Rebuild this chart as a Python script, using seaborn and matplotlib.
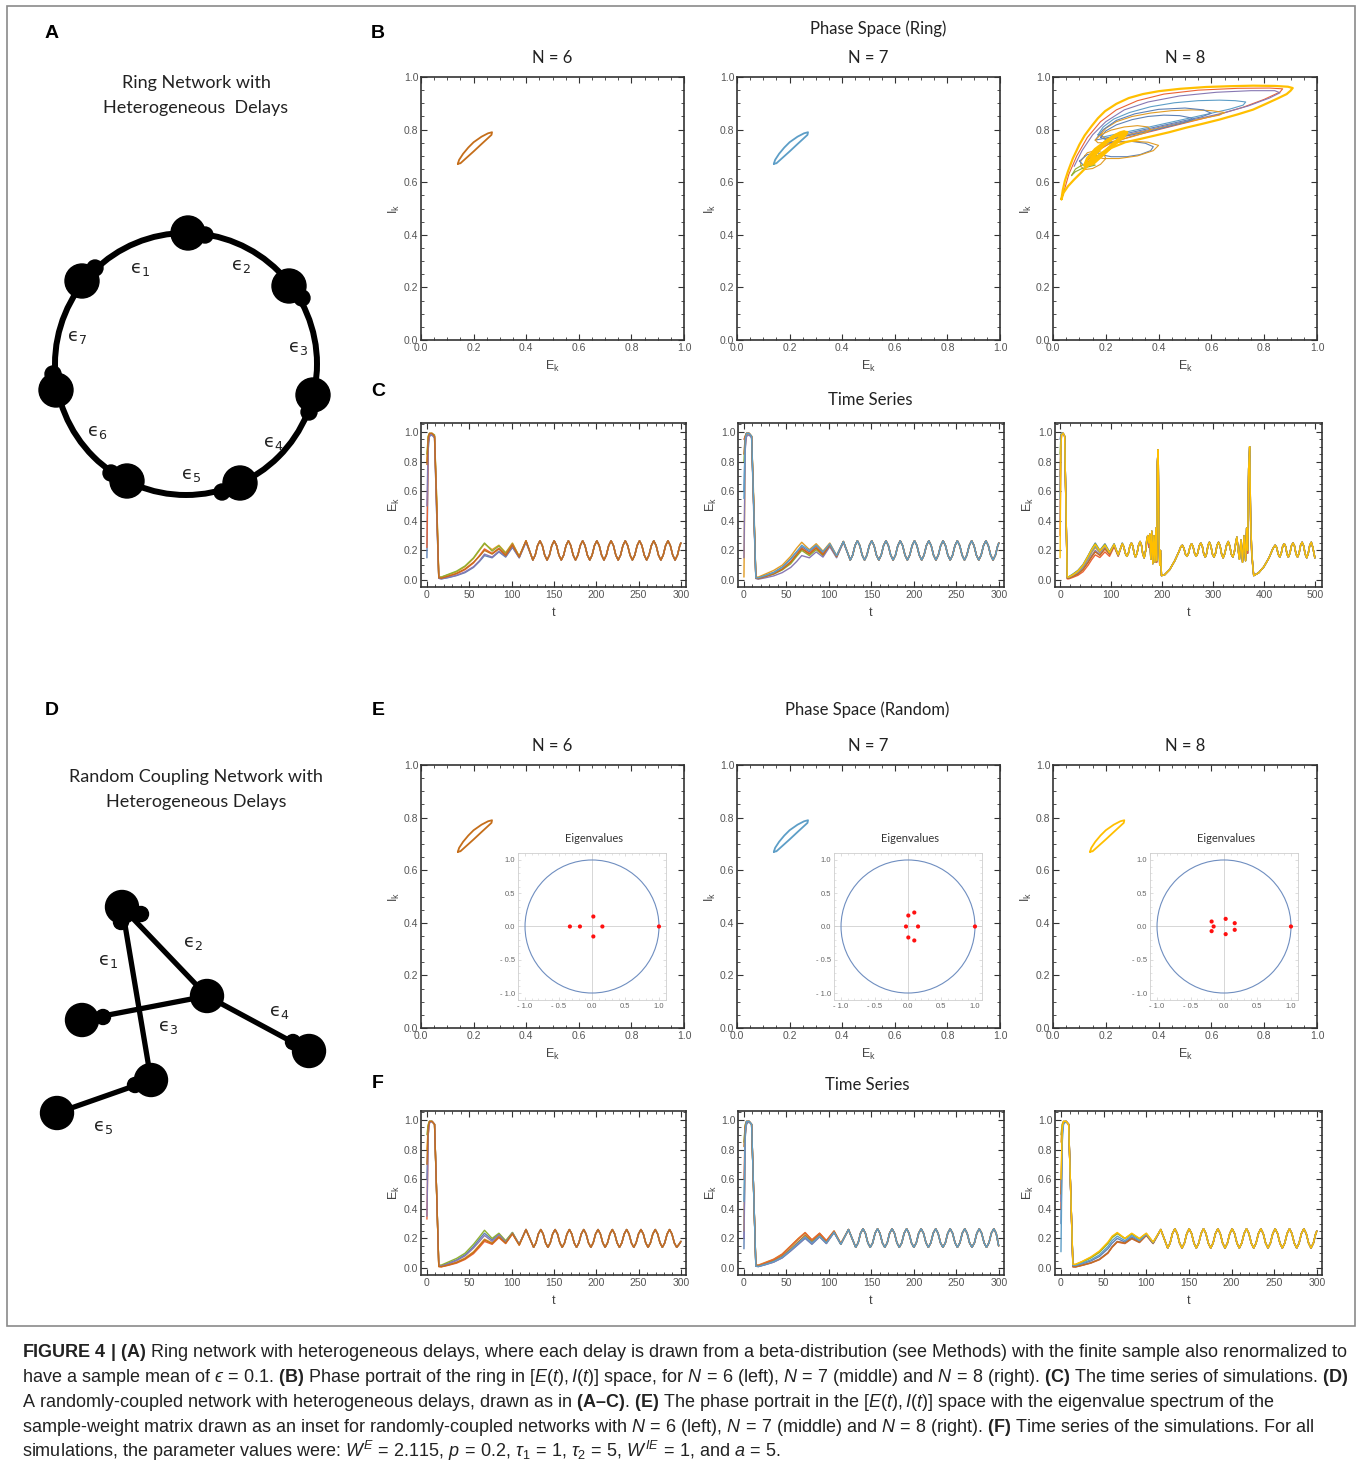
import matplotlib
matplotlib.use("Agg")
import matplotlib.pyplot as plt
import seaborn as sns
from matplotlib import font_manager
from matplotlib.patches import Circle, Ellipse, Rectangle
from matplotlib.ticker import MultipleLocator, FormatStrFormatter, FuncFormatter

# === Figure size in pixels (saved at dpi 100) ===
W, H = 1357, 1471

# === Colours (Mathematica default plot palette) ===
C_BLUE, C_ORANGE, C_GREEN, C_RED = "#5E81B5", "#E19C24", "#8FB032", "#EB6235"
C_PURPLE, C_BROWN, C_LBLUE, C_YELLOW = "#8778B3", "#C56E1A", "#5D9EC7", "#FFBF00"

# === Phase space: small limit cycle (E_k, I_k) ===
loop_E = [0.140, 0.145, 0.160, 0.180, 0.200, 0.230, 0.255, 0.270, 0.268, 0.255, 0.230, 0.200, 0.170, 0.150, 0.140]
loop_I = [0.670, 0.685, 0.708, 0.732, 0.752, 0.773, 0.786, 0.790, 0.780, 0.768, 0.745, 0.717, 0.690, 0.672, 0.670]

# === Phase space ring N = 8: chaotic orbits as (E, I) pairs ===
ring8_outer = [(0.032, 0.535), (0.037, 0.57), (0.045, 0.605), (0.057, 0.642), (0.075, 0.69), (0.1, 0.743),
               (0.12, 0.778), (0.146, 0.813), (0.17, 0.843), (0.197, 0.87), (0.24, 0.898), (0.287, 0.92),
               (0.34, 0.935), (0.4, 0.946), (0.48, 0.955), (0.58, 0.962), (0.67, 0.965), (0.758, 0.967),
               (0.84, 0.966), (0.89, 0.963), (0.908, 0.958), (0.9, 0.948), (0.885, 0.935), (0.85, 0.918),
               (0.8, 0.895), (0.758, 0.876), (0.7, 0.858), (0.63, 0.838), (0.57, 0.823), (0.503, 0.807),
               (0.44, 0.79), (0.376, 0.775), (0.32, 0.762), (0.274, 0.752), (0.22, 0.73), (0.18, 0.705),
               (0.15, 0.68), (0.134, 0.665), (0.11, 0.64), (0.08, 0.61), (0.057, 0.585), (0.04, 0.56), (0.032, 0.535)]
ring8_red = [(0.04, 0.56), (0.06, 0.63), (0.09, 0.7), (0.13, 0.77), (0.18, 0.83), (0.24, 0.875), (0.32, 0.91),
             (0.42, 0.935), (0.55, 0.95), (0.7, 0.957), (0.82, 0.958), (0.87, 0.955), (0.86, 0.943), (0.8, 0.915),
             (0.72, 0.885), (0.62, 0.855), (0.5, 0.825), (0.4, 0.8), (0.3, 0.775), (0.22, 0.75), (0.17, 0.72)]
ring8_purple = [(0.08, 0.66), (0.11, 0.72), (0.15, 0.78), (0.2, 0.83), (0.27, 0.875), (0.36, 0.905), (0.48, 0.928),
                (0.62, 0.942), (0.75, 0.948), (0.84, 0.948), (0.86, 0.94), (0.82, 0.92), (0.74, 0.89), (0.64, 0.862),
                (0.52, 0.835), (0.4, 0.808), (0.3, 0.785), (0.22, 0.762), (0.18, 0.74)]
ring8_teal = [(0.17, 0.78), (0.19, 0.81), (0.23, 0.84), (0.29, 0.865), (0.37, 0.887), (0.46, 0.902), (0.55, 0.91),
              (0.63, 0.912), (0.69, 0.91), (0.73, 0.905), (0.72, 0.893), (0.67, 0.878), (0.59, 0.86), (0.5, 0.84),
              (0.41, 0.82), (0.32, 0.8), (0.24, 0.783), (0.19, 0.772), (0.17, 0.78)]
ring8_orange1 = [(0.18, 0.78), (0.2, 0.805), (0.24, 0.83), (0.3, 0.85), (0.37, 0.863), (0.45, 0.872), (0.53, 0.875),
                 (0.6, 0.872), (0.65, 0.865), (0.63, 0.855), (0.57, 0.843), (0.49, 0.825), (0.4, 0.805),
                 (0.32, 0.787), (0.25, 0.772), (0.2, 0.765), (0.18, 0.78)]
ring8_blue1 = [(0.18, 0.77), (0.2, 0.795), (0.24, 0.818), (0.3, 0.838), (0.36, 0.85), (0.42, 0.855), (0.48, 0.853),
               (0.52, 0.845), (0.53, 0.838), (0.5, 0.828), (0.44, 0.812), (0.37, 0.795), (0.3, 0.78), (0.24, 0.768),
               (0.2, 0.762), (0.18, 0.77)]
ring8_blue3 = [(0.16, 0.76), (0.19, 0.8), (0.24, 0.835), (0.31, 0.86), (0.4, 0.877), (0.5, 0.882), (0.57, 0.875),
               (0.6, 0.862), (0.56, 0.848), (0.48, 0.83), (0.39, 0.81), (0.3, 0.79), (0.22, 0.772), (0.16, 0.76)]
ring8_orange2 = [(0.16, 0.76), (0.18, 0.78), (0.22, 0.798), (0.27, 0.81), (0.32, 0.815), (0.36, 0.81), (0.37, 0.8),
                 (0.35, 0.788), (0.3, 0.773), (0.25, 0.76), (0.2, 0.75), (0.17, 0.75), (0.16, 0.76)]
ring8_blue2 = [(0.16, 0.72), (0.18, 0.705), (0.22, 0.697), (0.28, 0.697), (0.33, 0.705), (0.37, 0.72), (0.38, 0.735),
               (0.35, 0.748), (0.3, 0.755), (0.24, 0.755), (0.19, 0.745), (0.16, 0.72)]
ring8_orange4 = [(0.15, 0.7), (0.19, 0.69), (0.25, 0.69), (0.32, 0.7), (0.38, 0.72), (0.4, 0.74), (0.36, 0.752),
                 (0.3, 0.756), (0.23, 0.75), (0.18, 0.735), (0.15, 0.7)]
ring8_orange3 = [(0.12, 0.7), (0.105, 0.68), (0.105, 0.66), (0.12, 0.648), (0.15, 0.652), (0.18, 0.668), (0.2, 0.69),
                 (0.19, 0.712), (0.16, 0.72), (0.13, 0.712), (0.12, 0.7)]
ring8_green = [(0.07, 0.625), (0.085, 0.64), (0.11, 0.652), (0.14, 0.66), (0.16, 0.665), (0.14, 0.67), (0.11, 0.665),
               (0.085, 0.65), (0.07, 0.625)]
ring8_blue4 = [(0.1, 0.68), (0.12, 0.66), (0.15, 0.665), (0.17, 0.69), (0.16, 0.71), (0.13, 0.705), (0.1, 0.68)]
ring8_blob_y = [(0.12, 0.665), (0.13, 0.69), (0.16, 0.725), (0.2, 0.755), (0.24, 0.777), (0.28, 0.79), (0.27, 0.775),
                (0.24, 0.75), (0.2, 0.72), (0.16, 0.69), (0.13, 0.67), (0.12, 0.665)]
ring8_blob_o = [(0.13, 0.68), (0.16, 0.72), (0.2, 0.75), (0.25, 0.78), (0.28, 0.79), (0.26, 0.77), (0.22, 0.73),
                (0.18, 0.7), (0.15, 0.675), (0.13, 0.68)]
ring8_blob_b = [(0.15, 0.7), (0.19, 0.74), (0.24, 0.775), (0.27, 0.785), (0.25, 0.76), (0.2, 0.72), (0.16, 0.695),
                (0.15, 0.7)]

# === Eigenvalue spectra (random networks) ===
eig6_re = [-0.33, -0.18, 0.02, 0.02, 0.155, 1.0]
eig6_im = [0.0, 0.0, 0.15, -0.15, 0.0, 0.0]
eig7_re = [-0.03, 0.005, 0.005, 0.094, 0.094, 0.15, 1.0]
eig7_im = [0.0, 0.165, -0.165, 0.21, -0.21, 0.0, 0.0]
eig8_re = [-0.185, -0.155, -0.185, 0.025, 0.025, 0.16, 0.16, 1.0]
eig8_im = [0.075, 0.0, -0.07, 0.115, -0.115, 0.05, -0.05, 0.0]

# === Time series: transient part (t grid + one list per node) ===
t_head = [0, 1.5, 3, 6, 9, 11.5, 14, 17, 25, 35, 45, 55, 62, 68, 77, 85, 93, 101, 109, 117]
t_head_c8 = [0, 1.5, 3, 6, 9, 11.5, 14, 17, 25, 35, 45, 55, 62, 69, 78, 88, 97, 106, 114, 122]
t_head_f7 = [0, 1.5, 3, 6, 9, 11.5, 14, 17, 25, 35, 45, 55, 64, 72, 80, 89, 97, 106, 114, 123]
t_head_f8 = [0, 1.5, 3, 6, 9, 11.5, 14, 17, 25, 35, 45, 55, 60, 66, 75, 83, 92, 100, 108, 117]

# ring N = 6
c6_blue = [0.15, 0.88, 0.97, 0.98, 0.96, 0.45, 0.012, 0.008, 0.016, 0.03, 0.05, 0.085, 0.125, 0.165, 0.15, 0.19, 0.155, 0.22, 0.15, 0.255]
c6_orange = [0.80, 0.97, 0.99, 0.99, 0.97, 0.55, 0.02, 0.02, 0.035, 0.055, 0.09, 0.145, 0.20, 0.245, 0.205, 0.235, 0.185, 0.25, 0.16, 0.265]
c6_green = [0.85, 0.97, 0.99, 0.99, 0.98, 0.55, 0.02, 0.02, 0.038, 0.06, 0.095, 0.15, 0.205, 0.25, 0.195, 0.23, 0.18, 0.245, 0.16, 0.265]
c6_red = [0.22, 0.92, 0.98, 0.99, 0.97, 0.5, 0.015, 0.012, 0.025, 0.042, 0.07, 0.115, 0.165, 0.21, 0.18, 0.215, 0.17, 0.24, 0.155, 0.265]
c6_purple = [0.50, 0.93, 0.98, 0.98, 0.96, 0.45, 0.012, 0.008, 0.018, 0.032, 0.055, 0.09, 0.13, 0.175, 0.155, 0.195, 0.16, 0.225, 0.15, 0.26]
c6_brown = [0.78, 0.96, 0.99, 0.99, 0.97, 0.5, 0.015, 0.012, 0.026, 0.045, 0.075, 0.12, 0.16, 0.20, 0.175, 0.21, 0.165, 0.235, 0.155, 0.265]

# ring N = 7
c7_blue = [0.6, 0.96, 0.99, 0.99, 0.97, 0.5, 0.015, 0.015, 0.032, 0.052, 0.088, 0.145, 0.19, 0.225, 0.19, 0.23, 0.185, 0.245, 0.16, 0.26]
c7_orange = [0.02, 0.9, 0.98, 0.99, 0.97, 0.55, 0.02, 0.02, 0.04, 0.065, 0.1, 0.16, 0.215, 0.255, 0.205, 0.245, 0.195, 0.25, 0.165, 0.26]
c7_green = [0.8, 0.97, 0.99, 0.99, 0.97, 0.5, 0.012, 0.01, 0.022, 0.04, 0.068, 0.11, 0.16, 0.2, 0.165, 0.205, 0.165, 0.235, 0.155, 0.26]
c7_red = [0.95, 0.97, 0.99, 0.99, 0.97, 0.5, 0.012, 0.01, 0.025, 0.045, 0.075, 0.125, 0.175, 0.215, 0.18, 0.22, 0.175, 0.24, 0.16, 0.26]
c7_purple = [0.15, 0.88, 0.97, 0.98, 0.96, 0.45, 0.01, 0.006, 0.015, 0.028, 0.05, 0.085, 0.125, 0.165, 0.15, 0.19, 0.155, 0.225, 0.15, 0.255]
c7_brown = [0.85, 0.97, 0.99, 0.99, 0.97, 0.5, 0.013, 0.01, 0.024, 0.042, 0.072, 0.12, 0.17, 0.21, 0.175, 0.215, 0.17, 0.238, 0.158, 0.26]
c7_lblue = [0.55, 0.95, 0.99, 0.99, 0.97, 0.5, 0.015, 0.015, 0.03, 0.05, 0.085, 0.14, 0.19, 0.235, 0.2, 0.235, 0.19, 0.245, 0.165, 0.26]

# steady oscillation shared by ring N = 6, ring N = 7 and random N = 8
tail_a_t = [125.1, 127.9, 130.7, 133.5, 136.3, 139.1,
            141.9, 144.7, 147.5, 150.3, 153.1, 155.9,
            158.7, 161.5, 164.3, 167.1, 169.9, 172.7,
            175.5, 178.3, 181.1, 183.9, 186.7, 189.5,
            192.3, 195.1, 197.9, 200.7, 203.5, 206.3,
            209.1, 211.9, 214.7, 217.5, 220.3, 223.1,
            225.9, 228.7, 231.5, 234.3, 237.1, 239.9,
            242.7, 245.5, 248.3, 251.1, 253.9, 256.7,
            259.5, 262.3, 265.1, 267.9, 270.7, 273.5,
            276.3, 279.1, 281.9, 284.7, 287.5, 290.3,
            293.1, 295.9, 298.7, 300.0]
tail_a_E = [0.135, 0.168, 0.233, 0.265, 0.233, 0.168,
            0.135, 0.168, 0.233, 0.265, 0.233, 0.168,
            0.135, 0.168, 0.233, 0.265, 0.233, 0.168,
            0.135, 0.168, 0.233, 0.265, 0.233, 0.168,
            0.135, 0.168, 0.233, 0.265, 0.233, 0.168,
            0.135, 0.168, 0.233, 0.265, 0.233, 0.168,
            0.135, 0.168, 0.233, 0.265, 0.233, 0.168,
            0.135, 0.168, 0.233, 0.265, 0.233, 0.168,
            0.135, 0.168, 0.233, 0.265, 0.233, 0.168,
            0.135, 0.168, 0.233, 0.265, 0.233, 0.168,
            0.135, 0.168, 0.233, 0.25]

# ring N = 8
c8_blue = [0.95, 0.98, 0.99, 0.99, 0.97, 0.5, 0.02, 0.022, 0.04, 0.065, 0.105, 0.165, 0.21, 0.25, 0.2, 0.245, 0.19, 0.245, 0.17, 0.25]
c8_orange = [0.7, 0.96, 0.99, 0.99, 0.97, 0.5, 0.016, 0.016, 0.03, 0.05, 0.085, 0.14, 0.185, 0.22, 0.185, 0.228, 0.18, 0.238, 0.166, 0.245]
c8_green = [0.85, 0.97, 0.99, 0.99, 0.97, 0.5, 0.02, 0.021, 0.038, 0.063, 0.1, 0.162, 0.208, 0.245, 0.198, 0.24, 0.188, 0.243, 0.17, 0.248]
c8_red = [0.3, 0.92, 0.98, 0.99, 0.97, 0.5, 0.008, 0.008, 0.018, 0.032, 0.056, 0.1, 0.138, 0.17, 0.152, 0.19, 0.16, 0.225, 0.16, 0.245]
c8_purple = [0.4, 0.93, 0.98, 0.99, 0.97, 0.5, 0.013, 0.013, 0.026, 0.044, 0.075, 0.125, 0.165, 0.2, 0.172, 0.215, 0.176, 0.235, 0.165, 0.245]
c8_brown = [0.6, 0.95, 0.99, 0.99, 0.97, 0.5, 0.012, 0.012, 0.024, 0.04, 0.07, 0.118, 0.156, 0.19, 0.166, 0.21, 0.174, 0.233, 0.164, 0.245]
c8_lblue = [0.55, 0.95, 0.99, 0.99, 0.97, 0.5, 0.018, 0.018, 0.033, 0.056, 0.092, 0.15, 0.195, 0.23, 0.19, 0.232, 0.184, 0.24, 0.168, 0.246]
c8_yellow = [0.15, 0.9, 0.98, 0.99, 0.97, 0.5, 0.02, 0.02, 0.035, 0.06, 0.1, 0.16, 0.205, 0.24, 0.195, 0.235, 0.185, 0.24, 0.17, 0.245]
c8_seg1 = [(125, 0.225), (128, 0.18), (131, 0.16), (134, 0.18), (137, 0.23), (140, 0.25), (142.7, 0.23),
           (145.3, 0.18), (148, 0.155), (151, 0.18), (154, 0.235), (157, 0.26), (159.7, 0.235), (162.3, 0.175),
           (165, 0.15)]
c8_spike1 = [(168, 0.2), (170, 0.27), (172, 0.3), (174, 0.25), (176, 0.31), (178, 0.14), (180, 0.33), (182, 0.11),
             (184, 0.3), (186, 0.12), (188, 0.35), (189.5, 0.13), (191, 0.8), (192.5, 0.88), (194, 0.3),
             (195.5, 0.1), (197, 0.2), (199, 0.03)]
c8_spike1_alt = [(168, 0.2), (170, 0.26), (172, 0.29), (174, 0.22), (176, 0.3), (178, 0.16), (180, 0.31), (182, 0.12),
                 (184, 0.28), (186, 0.14), (188, 0.33), (189.5, 0.12), (191, 0.78), (192.5, 0.85), (194, 0.25),
                 (195.5, 0.12), (197, 0.18), (199, 0.03)]
c8_seg2 = [(205, 0.035), (215, 0.07), (225, 0.13), (233, 0.19), (237, 0.225), (240, 0.235), (243, 0.215),
           (246, 0.175), (249, 0.16), (252, 0.18), (255, 0.225), (258, 0.245), (261, 0.225), (264, 0.18),
           (267, 0.16), (270, 0.18), (273, 0.23), (276, 0.25), (279, 0.23), (282, 0.175), (285, 0.155),
           (287.7, 0.18), (290.3, 0.235), (293, 0.255), (296, 0.23), (299, 0.175), (302, 0.155), (305, 0.18),
           (308, 0.235), (311, 0.255), (314, 0.23), (317, 0.175), (320, 0.15), (323.3, 0.18), (326.7, 0.235),
           (330, 0.26), (333, 0.23), (336, 0.175), (339, 0.155)]
c8_spike2 = [(342, 0.19), (345, 0.26), (347, 0.29), (349.5, 0.2), (352, 0.14), (355, 0.27), (358, 0.12), (361, 0.3),
             (364, 0.13), (366, 0.35), (368, 0.2), (370, 0.75), (372, 0.9), (374, 0.4), (376, 0.2), (378, 0.1),
             (380, 0.03)]
c8_spike2_alt = [(342, 0.19), (345, 0.25), (347, 0.28), (349.5, 0.21), (352, 0.15), (355, 0.25), (358, 0.13),
                 (361, 0.28), (364, 0.15), (366, 0.32), (368, 0.18), (370, 0.7), (372, 0.84), (374, 0.35),
                 (376, 0.18), (378, 0.1), (380, 0.03)]
c8_seg3 = [(390, 0.05), (400, 0.09), (410, 0.15), (418, 0.215), (422, 0.235), (425, 0.22), (428, 0.175),
           (431, 0.155), (434, 0.18), (437, 0.23), (440, 0.245), (442.7, 0.225), (445.3, 0.175), (448, 0.155),
           (451, 0.18), (454, 0.23), (457, 0.25), (460, 0.23), (463, 0.175), (466, 0.155), (469, 0.18),
           (472, 0.235), (475, 0.255), (478, 0.23), (481, 0.175), (484, 0.15), (487, 0.18), (490, 0.235),
           (493, 0.255), (496, 0.22), (500, 0.15)]

# random N = 6
f6_blue = [0.6, 0.95, 0.99, 0.99, 0.97, 0.5, 0.015, 0.015, 0.032, 0.055, 0.09, 0.145, 0.195, 0.235, 0.19, 0.23, 0.18, 0.24, 0.16, 0.26]
f6_orange = [0.8, 0.96, 0.99, 0.99, 0.97, 0.5, 0.012, 0.01, 0.022, 0.04, 0.068, 0.11, 0.155, 0.195, 0.17, 0.215, 0.17, 0.235, 0.155, 0.26]
f6_green = [0.9, 0.97, 0.99, 0.99, 0.97, 0.5, 0.02, 0.02, 0.04, 0.065, 0.1, 0.16, 0.21, 0.255, 0.2, 0.235, 0.185, 0.24, 0.16, 0.26]
f6_red = [0.33, 0.9, 0.98, 0.99, 0.97, 0.5, 0.01, 0.008, 0.018, 0.033, 0.058, 0.097, 0.14, 0.18, 0.16, 0.205, 0.165, 0.23, 0.155, 0.26]
f6_purple = [0.35, 0.9, 0.98, 0.99, 0.97, 0.5, 0.015, 0.013, 0.028, 0.05, 0.082, 0.135, 0.18, 0.22, 0.18, 0.225, 0.175, 0.235, 0.16, 0.26]
f6_brown = [0.7, 0.95, 0.99, 0.99, 0.97, 0.5, 0.01, 0.009, 0.02, 0.037, 0.063, 0.105, 0.15, 0.19, 0.165, 0.21, 0.168, 0.232, 0.155, 0.26]
tail_b_t = [126.0, 128.8, 131.6, 134.5, 137.3, 140.1,
            142.9, 145.7, 148.5, 151.4, 154.2, 157.0,
            159.8, 162.6, 165.4, 168.3, 171.1, 173.9,
            176.7, 179.5, 182.3, 185.2, 188.0, 190.8,
            193.6, 196.4, 199.2, 202.1, 204.9, 207.7,
            210.5, 213.3, 216.1, 219.0, 221.8, 224.6,
            227.4, 230.2, 233.0, 235.9, 238.7, 241.5,
            244.3, 247.1, 249.9, 252.8, 255.6, 258.4,
            261.2, 264.0, 266.8, 269.7, 272.5, 275.3,
            278.1, 280.9, 283.7, 286.6, 289.4, 292.2,
            295.0, 297.8, 300.0]
tail_b_E = [0.14, 0.17, 0.23, 0.26, 0.23, 0.17,
            0.14, 0.17, 0.23, 0.26, 0.23, 0.17,
            0.14, 0.17, 0.23, 0.26, 0.23, 0.17,
            0.14, 0.17, 0.23, 0.26, 0.23, 0.17,
            0.14, 0.17, 0.23, 0.26, 0.23, 0.17,
            0.14, 0.17, 0.23, 0.26, 0.23, 0.17,
            0.14, 0.17, 0.23, 0.26, 0.23, 0.17,
            0.14, 0.17, 0.23, 0.26, 0.23, 0.17,
            0.14, 0.17, 0.23, 0.26, 0.23, 0.17,
            0.14, 0.17, 0.23, 0.26, 0.23, 0.17,
            0.14, 0.16, 0.18]

# random N = 7
f7_blue = [0.13, 0.88, 0.97, 0.99, 0.97, 0.5, 0.012, 0.01, 0.022, 0.04, 0.068, 0.115, 0.16, 0.2, 0.16, 0.21, 0.165, 0.24, 0.16, 0.26]
f7_orange = [0.25, 0.9, 0.98, 0.99, 0.97, 0.5, 0.02, 0.02, 0.038, 0.06, 0.095, 0.15, 0.2, 0.24, 0.19, 0.235, 0.185, 0.25, 0.165, 0.26]
f7_green = [0.85, 0.97, 0.99, 0.99, 0.97, 0.5, 0.018, 0.016, 0.033, 0.055, 0.09, 0.145, 0.195, 0.235, 0.185, 0.232, 0.18, 0.248, 0.163, 0.26]
f7_red = [0.6, 0.95, 0.99, 0.99, 0.97, 0.5, 0.02, 0.018, 0.035, 0.058, 0.092, 0.148, 0.198, 0.238, 0.19, 0.235, 0.185, 0.25, 0.165, 0.26]
f7_purple = [0.2, 0.9, 0.98, 0.99, 0.97, 0.5, 0.012, 0.01, 0.023, 0.04, 0.07, 0.117, 0.162, 0.205, 0.165, 0.212, 0.166, 0.24, 0.16, 0.26]
f7_brown = [0.82, 0.96, 0.99, 0.99, 0.97, 0.5, 0.015, 0.013, 0.028, 0.048, 0.08, 0.13, 0.178, 0.22, 0.175, 0.222, 0.172, 0.244, 0.16, 0.26]
f7_lblue = [0.45, 0.93, 0.99, 0.99, 0.97, 0.5, 0.013, 0.011, 0.025, 0.044, 0.074, 0.122, 0.17, 0.21, 0.17, 0.216, 0.17, 0.242, 0.16, 0.26]
tail_c_t = [131.5, 134.4, 137.2, 140.1, 142.9, 145.8,
            148.6, 151.5, 154.3, 157.2, 160.0, 162.9,
            165.7, 168.6, 171.4, 174.3, 177.1, 180.0,
            182.8, 185.7, 188.5, 191.4, 194.2, 197.1,
            199.9, 202.8, 205.6, 208.5, 211.3, 214.2,
            217.0, 219.9, 222.7, 225.6, 228.4, 231.3,
            234.1, 237.0, 239.8, 242.7, 245.5, 248.4,
            251.2, 254.1, 256.9, 259.8, 262.6, 265.5,
            268.3, 271.2, 274.0, 276.9, 279.7, 282.6,
            285.4, 288.3, 291.1, 294.0, 296.8, 299.7]
tail_c_E = [0.14, 0.17, 0.235, 0.265, 0.235, 0.17,
            0.14, 0.17, 0.235, 0.265, 0.235, 0.17,
            0.14, 0.17, 0.235, 0.265, 0.235, 0.17,
            0.14, 0.17, 0.235, 0.265, 0.235, 0.17,
            0.14, 0.17, 0.235, 0.265, 0.235, 0.17,
            0.14, 0.17, 0.235, 0.265, 0.235, 0.17,
            0.14, 0.17, 0.235, 0.265, 0.235, 0.17,
            0.14, 0.17, 0.235, 0.265, 0.235, 0.17,
            0.14, 0.17, 0.235, 0.265, 0.235, 0.17,
            0.14, 0.17, 0.235, 0.265, 0.235, 0.15]

# random N = 8
f8_blue = [0.3, 0.9, 0.98, 0.99, 0.97, 0.5, 0.015, 0.014, 0.028, 0.048, 0.078, 0.13, 0.168, 0.2, 0.175, 0.21, 0.18, 0.225, 0.168, 0.26]
f8_orange = [0.85, 0.97, 0.99, 0.99, 0.97, 0.5, 0.025, 0.024, 0.044, 0.072, 0.11, 0.17, 0.21, 0.235, 0.198, 0.232, 0.198, 0.234, 0.174, 0.26]
f8_green = [0.9, 0.97, 0.99, 0.99, 0.97, 0.5, 0.022, 0.022, 0.04, 0.068, 0.105, 0.165, 0.205, 0.232, 0.2, 0.23, 0.195, 0.232, 0.172, 0.26]
f8_red = [0.4, 0.92, 0.98, 0.99, 0.97, 0.5, 0.008, 0.007, 0.018, 0.033, 0.056, 0.1, 0.14, 0.175, 0.165, 0.198, 0.172, 0.22, 0.165, 0.26]
f8_purple = [0.45, 0.92, 0.98, 0.99, 0.97, 0.5, 0.01, 0.009, 0.02, 0.036, 0.06, 0.105, 0.145, 0.18, 0.17, 0.2, 0.175, 0.222, 0.166, 0.26]
f8_brown = [0.5, 0.93, 0.98, 0.99, 0.97, 0.5, 0.009, 0.008, 0.019, 0.035, 0.058, 0.102, 0.142, 0.178, 0.168, 0.2, 0.174, 0.222, 0.166, 0.26]
f8_lblue = [0.11, 0.85, 0.97, 0.99, 0.97, 0.5, 0.018, 0.017, 0.033, 0.055, 0.088, 0.145, 0.185, 0.215, 0.185, 0.22, 0.185, 0.228, 0.17, 0.26]
f8_yellow = [0.6, 0.95, 0.99, 0.99, 0.97, 0.5, 0.025, 0.025, 0.045, 0.075, 0.115, 0.175, 0.215, 0.24, 0.2, 0.235, 0.2, 0.235, 0.175, 0.26]

# === Network diagrams (figure pixel coordinates) ===
ring_nodes = [(188, 233), (82, 281), (289, 286), (56, 390), (313, 395), (127, 481), (240, 483)]
ring_bumps = [(205, 235), (95, 268), (302, 298), (53, 374), (309, 412), (111, 473), (222, 492)]
ring_labels = [(140, 269, "1"), (241, 266, "2"), (298, 348, "3"), (273, 443, "4"), (191, 475, "5"), (97, 432, "6"), (77, 337, "7")]
rnd_nodes = [(122, 907), (207, 996), (82, 1020), (309, 1051), (151, 1080), (57, 1113)]
rnd_edges = [(0, 4), (0, 1), (2, 1), (1, 3), (4, 5)]
rnd_bumps = [(121, 922), (141, 914), (103, 1017), (293, 1042), (135, 1085)]
rnd_labels = [(108, 961, "1"), (193, 943, "2"), (168, 1027, "3"), (279, 1012, "4"), (103, 1127, "5")]

# === Caption ===
caption = [
    r"$\mathbf{FIGURE\ 4\ |\ (A)}$ Ring network with heterogeneous delays, where each delay is drawn from a beta-distribution (see Methods) with the finite sample also renormalized to",
    r"have a sample mean of $ϵ\,=\,0.1$. $\mathbf{(B)}$ Phase portrait of the ring in $[E(t), I(t)]$ space, for $N\,=\,6$ (left), $N\,=\,7$ (middle) and $N\,=\,8$ (right). $\mathbf{(C)}$ The time series of simulations. $\mathbf{(D)}$",
    r"A randomly-coupled network with heterogeneous delays, drawn as in $\mathbf{(A–C)}$. $\mathbf{(E)}$ The phase portrait in the $[E(t), I(t)]$ space with the eigenvalue spectrum of the",
    r"sample-weight matrix drawn as an inset for randomly-coupled networks with $N\,=\,6$ (left), $N\,=\,7$ (middle) and $N\,=\,8$ (right). $\mathbf{(F)}$ Time series of the simulations. For all",
    r"simulations, the parameter values were: $W^E\,=\,2.115$, $p\,=\,0.2$, $\tau_1\,=\,1$, $\tau_2\,=\,5$, $W^{IE}\,=\,1$, and $a\,=\,5$.",
]

# === Style ===
sns.set_theme(style="white")
installed = {f.name for f in font_manager.fontManager.ttflist}
cap_font = "Liberation Sans Narrow" if "Liberation Sans Narrow" in installed else "Liberation Sans"
head_font = "Lato" if "Lato" in installed else "Open Sans"
plt.rcParams["font.family"] = ["Liberation Sans", "DejaVu Sans"]
plt.rcParams["mathtext.fontset"] = "custom"
plt.rcParams["mathtext.rm"] = cap_font
plt.rcParams["mathtext.it"] = cap_font + ":italic"
plt.rcParams["mathtext.bf"] = cap_font + ":bold"
plt.rcParams["mathtext.fallback"] = "stixsans"

fig = plt.figure(figsize=(W / 100, H / 100), dpi=100)
fig.patch.set_facecolor("white")


def pax(x0, y0, x1, y1):
    return fig.add_axes([x0 / W, 1 - y1 / H, (x1 - x0) / W, (y1 - y0) / H])


def ptext(x, y, s, **kw):
    kw.setdefault("ha", "center")
    kw.setdefault("va", "center")
    return fig.text(x / W, 1 - y / H, s, **kw)


def frame(ax, xmaj, xmin, ymaj, ymin):
    for sp in ax.spines.values():
        sp.set_visible(True)
        sp.set_color("#333333")
        sp.set_linewidth(1.2)
    ax.xaxis.set_major_locator(MultipleLocator(xmaj))
    ax.xaxis.set_minor_locator(MultipleLocator(xmin))
    ax.yaxis.set_major_locator(MultipleLocator(ymaj))
    ax.yaxis.set_minor_locator(MultipleLocator(ymin))
    ax.yaxis.set_major_formatter(FormatStrFormatter("%.1f"))
    ax.tick_params(which="both", direction="in", top=True, right=True, bottom=True, left=True,
                   color="#333333", labelcolor="#555555", labelsize=7.5, pad=2)
    ax.tick_params(which="major", length=4, width=0.8)
    ax.tick_params(which="minor", length=2, width=0.6)
    ax.set_xlabel("")
    ax.set_ylabel("")


def line(ax, x, y, color, lw=1.0):
    sns.lineplot(x=x, y=y, ax=ax, color=color, lw=lw, sort=False, estimator=None, legend=False)


def pairs_line(ax, pts, color, lw=0.8):
    line(ax, [p[0] for p in pts], [p[1] for p in pts], color, lw)


phase_cols = [(421, 684), (737, 1000), (1053, 1317)]
ts_cols = [(421, 686), (738, 1004), (1055, 1322)]
Ns = ["N = 6", "N = 7", "N = 8"]


def phase_axes(col, y0, y1):
    x0, x1 = phase_cols[col]
    ax = pax(x0, y0, x1, y1)
    ax.set_xlim(0, 1)
    ax.set_ylim(0, 1)
    frame(ax, 0.2, 0.05, 0.2, 0.05)
    ax.xaxis.set_major_formatter(FormatStrFormatter("%.1f"))
    ptext((x0 + x1) / 2, y0 - 19, Ns[col], fontsize=12, family=head_font, color="#222222")
    ptext((x0 + x1) / 2, y1 + 26, r"E$_\mathregular{k}$", fontsize=9, color="#444444")
    ptext(x0 - 27, (y0 + y1) / 2, r"I$_\mathregular{k}$", fontsize=9, color="#444444", rotation=90)
    return ax


def ts_axes(col, y0, y1, tmax):
    x0, x1 = ts_cols[col]
    ax = pax(x0, y0, x1, y1)
    if tmax == 500:
        ax.set_xlim(-10, 514)
        frame(ax, 100, 20, 0.2, 0.05)
    else:
        ax.set_xlim(-7, 306)
        frame(ax, 50, 10, 0.2, 0.05)
    ax.set_ylim(-0.047, 1.06)
    ptext((x0 + x1) / 2, y1 + 26, "t", fontsize=9, color="#444444")
    ptext(x0 - 27, (y0 + y1) / 2, r"E$_\mathregular{k}$", fontsize=9, color="#444444", rotation=90)
    return ax


def ts_panel(ax, heads, th, tail_t, tail_E):
    for head, color in heads:
        line(ax, th + tail_t, head + tail_E, color)


# === Background layer: outer frame + network drawings ===
bg = fig.add_axes([0, 0, 1, 1])
bg.set_xlim(0, W)
bg.set_ylim(H, 0)
bg.axis("off")
bg.add_patch(Rectangle((7, 6), 1348, 1320, fill=False, ec="#8a8a8a", lw=1.2))

bg.add_patch(Ellipse((186, 364), 262, 262, fill=False, ec="black", lw=4.3))
for (x, y) in ring_nodes:
    bg.add_patch(Circle((x, y), 17, color="black"))
for (x, y) in ring_bumps:
    bg.add_patch(Circle((x, y), 8, color="black"))
for (x, y, k) in ring_labels:
    bg.text(x, y, r"$\mathrm{ϵ}_{\mathrm{%s}}$" % k, fontsize=13, ha="center", va="center",
            color="#222222", math_fontfamily="dejavusans")

for a, b in rnd_edges:
    bg.plot([rnd_nodes[a][0], rnd_nodes[b][0]], [rnd_nodes[a][1], rnd_nodes[b][1]], color="black", lw=3.8)
for (x, y) in rnd_nodes:
    bg.add_patch(Circle((x, y), 16.5, color="black"))
for (x, y) in rnd_bumps:
    bg.add_patch(Circle((x, y), 7.5, color="black"))
for (x, y, k) in rnd_labels:
    bg.text(x, y, r"$\mathrm{ϵ}_{\mathrm{%s}}$" % k, fontsize=13, ha="center", va="center",
            color="#222222", math_fontfamily="dejavusans")

# === Panel letters and headers ===
for (x, y, s) in [(52, 33, "A"), (378, 33, "B"), (378, 392, "C"), (52, 711, "D"), (378, 711, "E"), (378, 1084, "F")]:
    ptext(x, y, s, fontsize=14, fontweight="bold", color="black")
ptext(878, 29, "Phase Space (Ring)", fontsize=12, family=head_font, color="#222222")
ptext(870, 400, "Time Series", fontsize=12, family=head_font, color="#222222")
ptext(867, 710, "Phase Space (Random)", fontsize=12, family=head_font, color="#222222")
ptext(867, 1085, "Time Series", fontsize=12, family=head_font, color="#222222")
ptext(196, 83, "Ring Network with", fontsize=13, family=head_font, color="#222222")
ptext(196, 108, "Heterogeneous  Delays", fontsize=13, family=head_font, color="#222222")
ptext(196, 777, "Random Coupling Network with", fontsize=13, family=head_font, color="#222222")
ptext(196, 802, "Heterogeneous Delays", fontsize=13, family=head_font, color="#222222")

# === (B) Phase space, ring ===
ax = phase_axes(0, 77, 340)
line(ax, loop_E, loop_I, C_BROWN, 1.3)
ax = phase_axes(1, 77, 340)
line(ax, loop_E, loop_I, C_LBLUE, 1.3)
ax = phase_axes(2, 77, 340)
for pts, color in [(ring8_red, C_RED), (ring8_purple, C_PURPLE), (ring8_teal, C_LBLUE), (ring8_orange1, C_ORANGE),
                   (ring8_blue3, C_BLUE), (ring8_blue1, C_BLUE), (ring8_orange2, C_ORANGE), (ring8_blue2, C_BLUE),
                   (ring8_orange4, C_ORANGE), (ring8_orange3, C_ORANGE), (ring8_blue4, C_BLUE),
                   (ring8_green, C_GREEN), (ring8_blob_b, C_BLUE), (ring8_blob_o, C_RED)]:
    pairs_line(ax, pts, color, 0.8)
pairs_line(ax, ring8_outer, C_YELLOW, 1.6)
pairs_line(ax, ring8_blob_y, C_YELLOW, 2.2)
line(ax, loop_E, loop_I, C_YELLOW, 3.0)

# === (C) Time series, ring ===
ax = ts_axes(0, 423, 587, 300)
ts_panel(ax, [(c6_blue, C_BLUE), (c6_orange, C_ORANGE), (c6_green, C_GREEN), (c6_red, C_RED),
              (c6_purple, C_PURPLE), (c6_brown, C_BROWN)], t_head, tail_a_t, tail_a_E)
ax = ts_axes(1, 423, 587, 300)
ts_panel(ax, [(c7_blue, C_BLUE), (c7_orange, C_ORANGE), (c7_green, C_GREEN), (c7_red, C_RED),
              (c7_purple, C_PURPLE), (c7_brown, C_BROWN), (c7_lblue, C_LBLUE)], t_head, tail_a_t, tail_a_E)
ax = ts_axes(2, 423, 587, 500)
c8_main = c8_seg1 + c8_spike1 + c8_seg2 + c8_spike2 + c8_seg3
c8_alt = c8_seg1 + c8_spike1_alt + c8_seg2 + c8_spike2_alt + c8_seg3
ts_panel(ax, [(c8_blue, C_BLUE), (c8_red, C_RED)], t_head_c8,
         [p[0] for p in c8_alt], [p[1] for p in c8_alt])
ts_panel(ax, [(c8_orange, C_ORANGE), (c8_green, C_GREEN), (c8_purple, C_PURPLE), (c8_brown, C_BROWN),
              (c8_lblue, C_LBLUE), (c8_yellow, C_YELLOW)], t_head_c8,
         [p[0] for p in c8_main], [p[1] for p in c8_main])

# === (E) Phase space, random, with eigenvalue insets ===
eig_sets = [(eig6_re, eig6_im), (eig7_re, eig7_im), (eig8_re, eig8_im)]
loop_colors = [C_BROWN, C_LBLUE, C_YELLOW]
inset_x = [(518, 666), (834, 982), (1150, 1298)]
neg_fmt = FuncFormatter(lambda v, p: ("- %.1f" % abs(v)) if v < -1e-9 else "%.1f" % abs(v))
for col in range(3):
    ax = phase_axes(col, 765, 1028)
    line(ax, loop_E, loop_I, loop_colors[col], 1.3)
    x0, x1 = inset_x[col]
    ins = pax(x0, 853, x1, 1000)
    ins.set_facecolor("white")
    ins.set_xlim(-1.105, 1.105)
    ins.set_ylim(-1.105, 1.105)
    for sp in ins.spines.values():
        sp.set_visible(True)
        sp.set_color("#cfcfcf")
        sp.set_linewidth(0.6)
    for axis in (ins.xaxis, ins.yaxis):
        axis.set_major_locator(MultipleLocator(0.5))
        axis.set_minor_locator(MultipleLocator(0.1))
        axis.set_major_formatter(neg_fmt)
    ins.tick_params(which="both", direction="in", top=True, right=True, bottom=True, left=True,
                    color="#cfcfcf", labelcolor="#666666", labelsize=5.5, pad=2)
    ins.tick_params(which="major", length=2.5, width=0.5)
    ins.tick_params(which="minor", length=1.2, width=0.4)
    ins.axhline(0, color="#d0d0d0", lw=0.6, zorder=0)
    ins.axvline(0, color="#d0d0d0", lw=0.6, zorder=0)
    ins.add_patch(Circle((0, 0), 1.0, fill=False, ec="#6F8EC0", lw=0.8))
    re, im = eig_sets[col]
    sns.scatterplot(x=re, y=im, ax=ins, color="#FF1010", s=9, edgecolor="none", legend=False, zorder=3)
    ins.set_xlabel("")
    ins.set_ylabel("")
    ptext((x0 + x1) / 2 + 2, 838, "Eigenvalues", fontsize=8, family=head_font, color="#333333")

# === (F) Time series, random ===
ax = ts_axes(0, 1111, 1275, 300)
ts_panel(ax, [(f6_blue, C_BLUE), (f6_orange, C_ORANGE), (f6_green, C_GREEN), (f6_red, C_RED),
              (f6_purple, C_PURPLE), (f6_brown, C_BROWN)], t_head, tail_b_t, tail_b_E)
ax = ts_axes(1, 1111, 1275, 300)
ts_panel(ax, [(f7_blue, C_BLUE), (f7_orange, C_ORANGE), (f7_green, C_GREEN), (f7_red, C_RED),
              (f7_purple, C_PURPLE), (f7_brown, C_BROWN), (f7_lblue, C_LBLUE)], t_head_f7, tail_c_t, tail_c_E)
ax = ts_axes(2, 1111, 1275, 300)
ts_panel(ax, [(f8_blue, C_BLUE), (f8_orange, C_ORANGE), (f8_green, C_GREEN), (f8_red, C_RED),
              (f8_purple, C_PURPLE), (f8_brown, C_BROWN), (f8_lblue, C_LBLUE), (f8_yellow, C_YELLOW)],
         t_head_f8, tail_a_t, tail_a_E)

# === Caption (fit the widest justified line to the text block width) ===
cap_texts = []
for i, s in enumerate(caption):
    cap_texts.append(ptext(22, 1357 + 25 * i, s, ha="left", va="baseline", fontsize=12,
                           family=cap_font, color="#222222"))
fig.canvas.draw()
renderer = fig.canvas.get_renderer()
widest = max(t.get_window_extent(renderer).width for t in cap_texts[:4])
scale = 1320 / widest
for t in cap_texts:
    t.set_fontsize(12 * scale)

fig.savefig("out.png", dpi=100)
